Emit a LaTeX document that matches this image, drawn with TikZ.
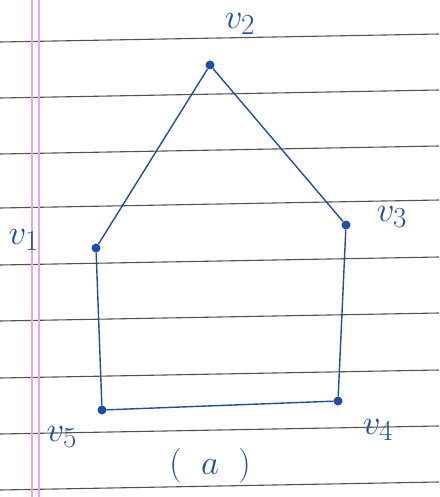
\documentclass[tikz,border=0pt]{standalone}
\newcommand{\hwlbl}[1]{\scalebox{1.4}{\Huge$#1$}}
\begin{document}
\begin{tikzpicture}[x=1pt,y=-1pt,
  ink/.style={draw=inkblue,line width=1.4pt},
  vtx/.style={circle,fill=inkblue,inner sep=0pt,minimum size=9pt},
  lbl/.style={text=inkblue},
  rule/.style={draw=ruleline,line width=1.1pt},
  margin/.style={draw=marginpink,line width=1.2pt}]
\definecolor{inkblue}{RGB}{28,78,170}
\definecolor{ruleline}{RGB}{90,80,75}
\definecolor{marginpink}{RGB}{236,165,230}
\useasboundingbox (0,0) rectangle (439,497);
\fill[white] (0,0) rectangle (439,497);
% ruled paper
\foreach \y in {42,98,154,208,265,321,378,434,490}
  \draw[rule] (0,\y) -- (439,\y-8);
\draw[margin] (32,0) -- (32,497);
\draw[margin] (39,0) -- (39,497);
% vertices
\node[vtx] (v2) at (210,65) {};
\node[vtx] (v1) at (96,248) {};
\node[vtx] (v3) at (346,225) {};
\node[vtx] (v4) at (338,401) {};
\node[vtx] (v5) at (102,410) {};
% edges
\draw[ink] (v1) -- (v2) -- (v3) -- (v4) -- (v5) -- (v1);
% labels
\node[lbl] (l2) at (240,24) {\hwlbl{v_2}};
\node[lbl] (l3) at (392,217) {\hwlbl{v_3}};
\node[lbl] (l1) at (24,240) {\hwlbl{v_1}};
\node[lbl] (l4) at (378,430) {\hwlbl{v_4}};
\node[lbl] (l5) at (62,437) {\hwlbl{v_5}};
\node[lbl] (la) at (210,466) {\hwlbl{(\;\;a\;\;)}};
\end{tikzpicture}
\end{document}
